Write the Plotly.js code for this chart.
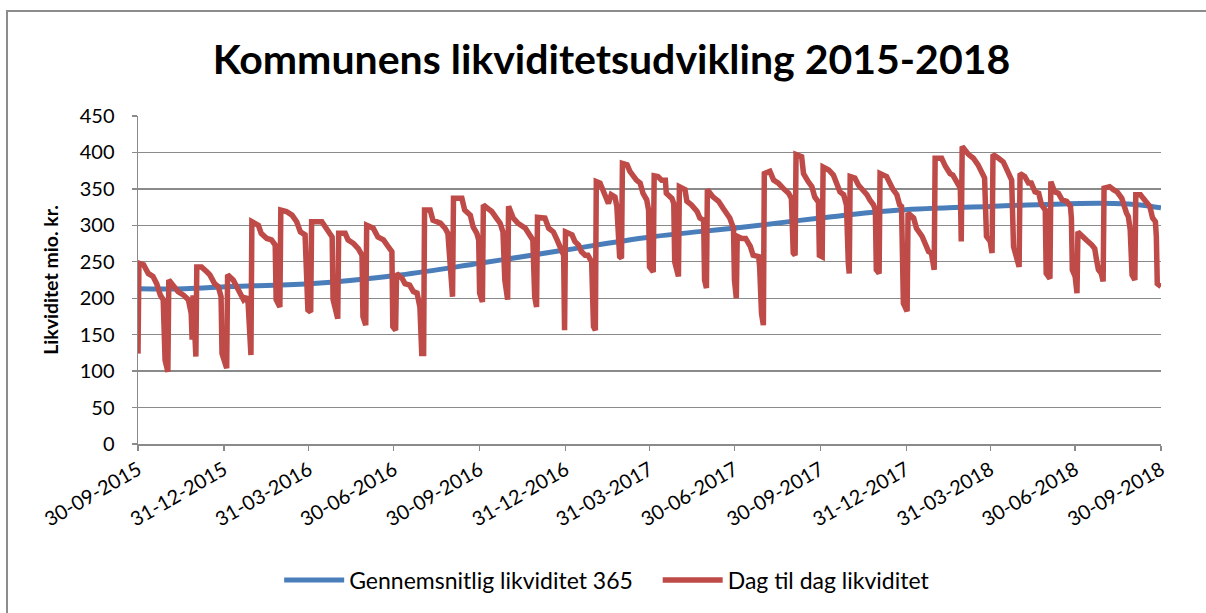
<!DOCTYPE html>
<html>
<head>
<meta charset="utf-8">
<script src="https://cdn.plot.ly/plotly-3.0.1.min.js"></script>
<style>
  html, body { margin: 0; padding: 0; background: #fff; overflow: hidden; }
  #frame { position: absolute; left: 6px; top: 10px; width: 1400px; height: 800px; border: 2px solid #8c8c8c; box-sizing: border-box; }
  #chart { position: absolute; left: 0; top: 0; width: 1206px; height: 613px; }
</style>
</head>
<body>
<div id="frame"></div>
<div id="chart"></div>
<script>
// Start date of the series (day 0)
const startDate = '2015-09-30';

// Dag til dag likviditet: day offsets from start date and values (mio. kr.)
const dailyDay = [0,1,6,11,16,20,24,27,29,32,33,38,43,49,54,57,58,59,62,63,68,74,77,82,86,89,90,95,96,102,106,109,113,116,118,121,122,129,132,138,143,147,148,152,153,159,165,170,174,179,182,185,186,197,202,208,209,214,215,222,225,231,236,240,241,244,245,252,257,263,268,272,273,276,277,283,286,291,295,299,302,304,306,307,313,316,324,329,332,336,337,338,347,350,356,359,363,365,366,369,370,375,379,384,388,391,393,396,397,402,407,415,420,423,425,427,428,436,440,445,449,452,456,457,458,465,468,472,475,479,482,486,488,490,491,495,499,504,507,511,513,516,518,519,524,527,534,538,541,545,547,548,552,553,557,561,565,566,572,574,575,579,580,586,588,593,599,602,606,607,609,610,616,622,627,631,634,638,639,641,642,647,651,656,659,665,666,668,670,671,677,681,686,691,697,700,702,704,705,711,713,718,722,725,729,730,733,734,740,745,749,752,756,759,761,762,763,768,772,775,781,784,788,790,791,794,795,802,806,809,813,816,818,820,824,825,831,834,840,843,847,850,852,853,854,861,865,870,873,877,881,882,883,890,895,900,904,907,909,913,915,916,922,927,931,936,938,944,945,950,954,957,961,965,968,972,973,977,978,982,986,990,995,999,1000,1001,1004,1006,1007,1011,1016,1022,1025,1027,1029,1032,1034,1035,1041,1045,1049,1054,1056,1059,1061,1063,1065,1068,1069,1074,1077,1081,1084,1087,1090,1091,1092,1096];
const dailyValue = [124,248,246,234,230,220,204,198,115,99,225,218,209,204,198,179,143,204,120,243,243,236,232,220,216,202,124,104,232,225,214,207,198,202,193,122,305,300,289,282,280,273,198,188,321,319,314,305,291,287,184,181,305,305,294,284,198,172,289,289,280,275,268,259,175,163,300,296,284,280,271,264,161,156,234,227,220,218,209,207,188,124,124,321,321,307,303,296,289,207,202,337,337,321,314,298,289,280,207,195,328,323,319,310,303,291,225,198,326,310,303,296,287,280,202,188,311,310,296,291,280,271,259,156,291,287,278,273,264,259,259,250,161,156,360,358,344,330,342,339,326,257,255,385,383,374,362,358,344,335,321,243,236,368,367,362,362,344,337,330,250,230,353,349,333,328,319,310,307,225,214,349,339,333,323,314,310,296,225,200,285,282,282,271,259,257,243,179,163,371,374,362,358,351,344,337,262,259,397,394,371,360,353,339,332,259,257,380,376,369,355,346,342,328,248,234,367,365,355,351,342,335,328,321,239,234,371,367,355,349,342,328,326,193,182,317,310,296,285,275,264,262,243,239,392,392,381,371,369,358,351,278,408,397,392,383,371,365,285,278,262,397,392,387,376,362,271,243,371,367,358,358,346,344,328,321,234,227,360,346,344,335,333,326,310,239,230,207,291,285,280,273,268,252,239,234,223,351,353,349,346,337,326,317,312,294,232,225,342,342,337,330,326,310,305,285,220,216];

// Gennemsnitlig likviditet 365: day offsets and values
const avgDay = [0,50,99,184,281,366,452,549,645,731,816,913,1009,1045,1074,1096];
const avgValue = [213,213,216,220,232,248,265,284,297,310,321,326,330,330,328,324];

// Axis ticks
const tickDates = ['2015-09-30','2015-12-31','2016-03-31','2016-06-30','2016-09-30','2016-12-31','2017-03-31','2017-06-30','2017-09-30','2017-12-31','2018-03-31','2018-06-30','2018-09-30'];
const tickLabels = ['30-09-2015','31-12-2015','31-03-2016','30-06-2016','30-09-2016','31-12-2016','31-03-2017','30-06-2017','30-09-2017','31-12-2017','31-03-2018','30-06-2018','30-09-2018'];

const seriesNames = ['Gennemsnitlig likviditet 365', 'Dag til dag likviditet'];
const titleText = 'Kommunens likviditetsudvikling 2015-2018';
const yTitleText = 'Likviditet mio. kr.';

function dayToDate(d) {
  const base = Date.parse(startDate + 'T00:00:00Z');
  return new Date(base + d * 86400000).toISOString().slice(0, 10);
}

const FONT = 'Lato, "Open Sans", sans-serif';
const GRID = '#8a8a8a';

const traces = [
  {
    x: avgDay.map(dayToDate), y: avgValue, type: 'scatter', mode: 'lines',
    name: seriesNames[0], legend: 'legend',
    line: { color: '#4a7ebb', width: 5, shape: 'spline', smoothing: 1 }
  },
  {
    x: dailyDay.map(dayToDate), y: dailyValue, type: 'scatter', mode: 'lines',
    name: seriesNames[1], legend: 'legend2',
    line: { color: '#be4b48', width: 5.5 }
  }
];

const legendFont = { family: FONT, size: 23, color: '#000' };

const layout = {
  width: 1206, height: 613,
  paper_bgcolor: 'rgba(0,0,0,0)', plot_bgcolor: 'rgba(0,0,0,0)',
  margin: { l: 138, r: 45, t: 116, b: 169 },
  font: { family: FONT, color: '#000' },
  title: {
    text: '<b>' + titleText + '</b>',
    font: { family: FONT, size: 41, color: '#000' },
    xref: 'container', x: 0.507, xanchor: 'center',
    yref: 'container', y: 0.902, yanchor: 'middle'
  },
  xaxis: {
    type: 'date',
    range: [tickDates[0], tickDates[tickDates.length - 1]],
    tickmode: 'array', tickvals: tickDates, ticktext: tickLabels,
    tickangle: -30,
    tickfont: { family: FONT, size: 20, color: '#000' },
    ticks: 'outside', ticklen: 5, tickwidth: 1.3, tickcolor: GRID,
    showgrid: false, zeroline: false,
    showline: true, linecolor: GRID, linewidth: 1.5
  },
  yaxis: {
    range: [0, 450], dtick: 50, tick0: 0,
    tickfont: { family: FONT, size: 20, color: '#000' },
    ticks: 'outside', ticklen: 5, tickwidth: 1.3, tickcolor: GRID,
    ticklabelstandoff: 13,
    showgrid: true, gridcolor: GRID, gridwidth: 1.3,
    zeroline: false,
    showline: true, linecolor: GRID, linewidth: 1.5,
    title: { text: '<b>' + yTitleText + '</b>', font: { family: FONT, size: 19.5, color: '#000' }, standoff: 16 }
  },
  showlegend: true,
  legend: {
    orientation: 'h', x: 0.138, xanchor: 'left', y: -0.415, yanchor: 'middle',
    font: legendFont, itemwidth: 60, bgcolor: 'rgba(0,0,0,0)'
  },
  legend2: {
    orientation: 'h', x: 0.508, xanchor: 'left', y: -0.415, yanchor: 'middle',
    font: legendFont, itemwidth: 60, bgcolor: 'rgba(0,0,0,0)'
  }
};

Plotly.newPlot('chart', traces, layout, { displayModeBar: false, staticPlot: true });
</script>
</body>
</html>
